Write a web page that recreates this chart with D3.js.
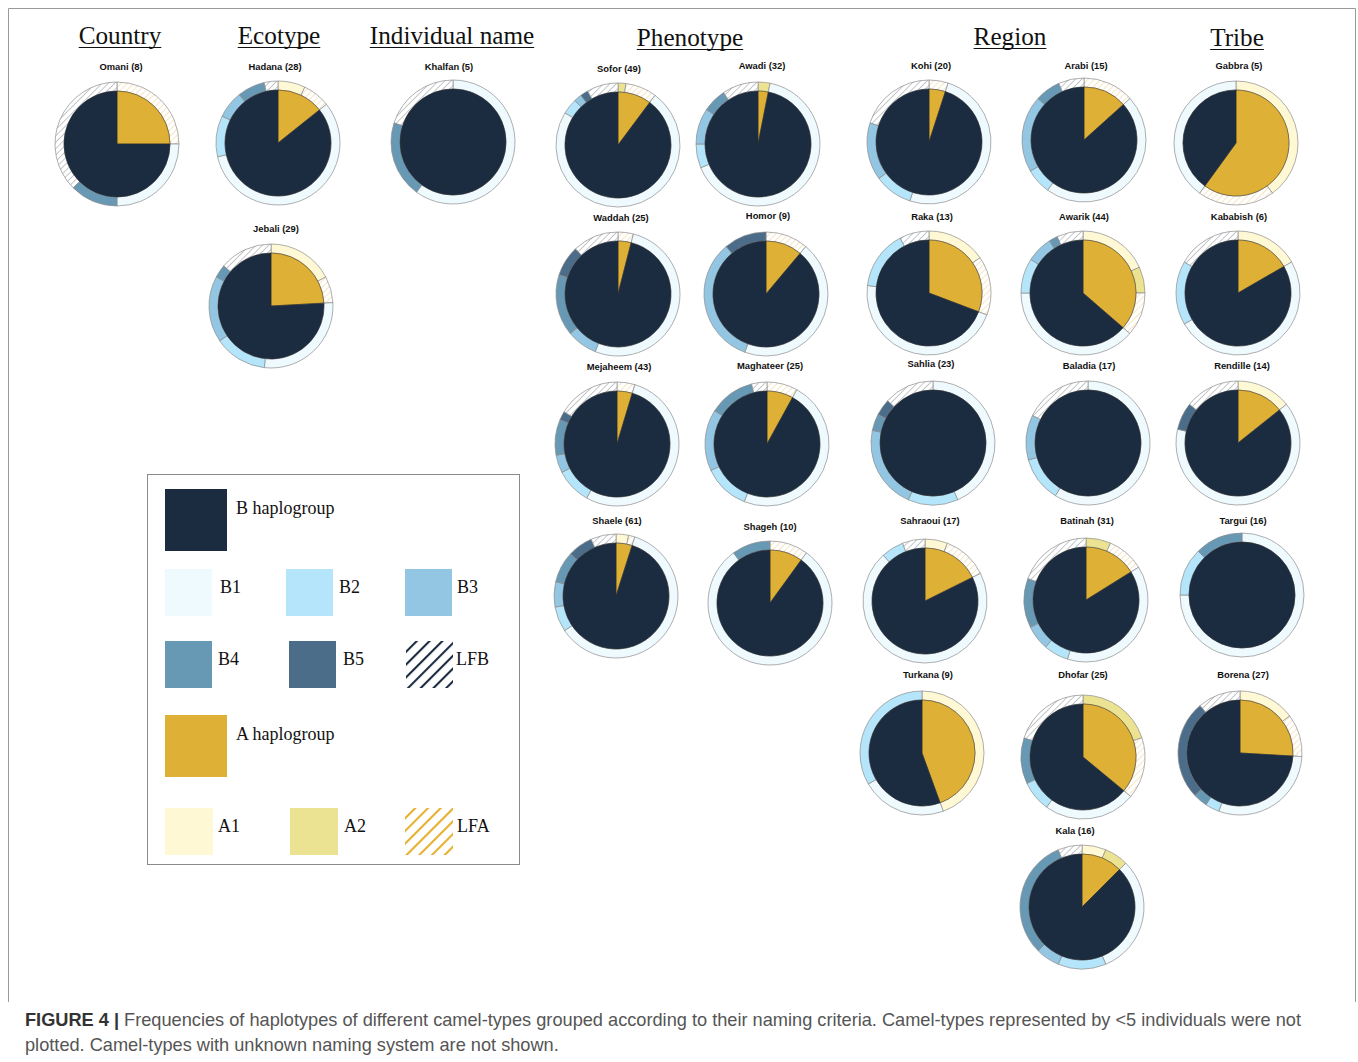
<!DOCTYPE html>
<html>
<head>
<meta charset="utf-8">
<script src="https://cdnjs.cloudflare.com/ajax/libs/d3/7.8.5/d3.min.js"></script>
<style>
html,body{margin:0;padding:0;background:#fff;}
svg{display:block;}
</style>
</head>
<body>
<svg id="chart" width="1358" height="1062"></svg>
<script>
// ---------------- DATA ----------------
const headers = ["Country", "Ecotype", "Individual name", "Phenotype", "Region", "Tribe"];
const chartNames = ["Omani (8)", "Hadana (28)", "Jebali (29)", "Khalfan (5)", "Sofor (49)", "Awadi (32)",
  "Waddah (25)", "Homor (9)", "Mejaheem (43)", "Maghateer (25)", "Shaele (61)", "Shageh (10)",
  "Kohi (20)", "Arabi (15)", "Gabbra (5)", "Raka (13)", "Awarik (44)", "Kababish (6)",
  "Sahlia (23)", "Baladia (17)", "Rendille (14)", "Sahraoui (17)", "Batinah (31)", "Targui (16)",
  "Turkana (9)", "Dhofar (25)", "Borena (27)", "Kala (16)"];
// sub-haplogroup counts per camel-type (outer ring)
const A1  = [0,2,5,0,0,0, 0,0,0,0,2,0, 0,0,2,2,8,1, 0,0,2,1,0,0, 4,0,4,1];
const A2  = [0,0,0,0,1,1, 0,0,0,0,0,0, 0,0,0,0,3,0, 0,0,0,0,2,0, 0,5,0,1];
const LFA = [2,2,2,0,4,0, 1,1,2,2,1,1, 1,2,1,2,5,0, 0,0,0,2,3,0, 0,4,3,0];
const B1  = [2,16,8,3,36,21, 13,4,23,12,37,8, 10,7,2,6,17,3, 10,10,9,12,12,12, 2,6,8,5];
const B2  = [0,3,4,0,2,2, 0,0,4,3,4,0, 2,1,0,2,4,1, 3,2,0,1,2,2, 3,2,1,2];
const B3  = [0,2,5,0,1,3, 2,3,2,4,4,0, 3,3,0,0,3,0, 5,2,0,0,2,0, 0,0,0,1];
const B4  = [1,2,1,1,0,2, 4,0,4,3,5,1, 0,1,0,0,1,0, 1,0,0,0,4,2, 0,3,1,5];
const B5  = [0,0,0,0,1,0, 2,1,1,0,4,0, 0,0,0,0,0,0, 1,0,1,0,0,0, 0,0,7,0];
const LFB = [3,1,4,1,4,3, 3,0,7,1,4,0, 4,1,0,1,3,1, 3,3,2,1,6,0, 0,5,3,1];
const ringKeys = ["A1","A2","LFA","B1","B2","B3","B4","B5","LFB"];
const legendB = ["B1","B2","B3","B4","B5","LFB"];
const legendA = ["A1","A2","LFA"];
const captionBold = "FIGURE 4 |";
const captionLine1 = " Frequencies of haplotypes of different camel-types grouped according to their naming criteria. Camel-types represented by <5 individuals were not";
const captionLine2 = "plotted. Camel-types with unknown naming system are not shown.";

// ---------------- LAYOUT ----------------
const headerPos = [[120,44],[279,44],[452,44],[690,46],[1010,45],[1237,46]];
const centers = [[117,144],[278,143],[271,306],[453,142],[618,145],[758,144],
  [618,294],[766,294],[617,444],[767,444],[616,596],[770,603],
  [929,142],[1084,140],[1236,143],[929,293],[1083,293],[1238,293],
  [933,443],[1088,443],[1238,443],[925,601],[1086,600],[1242,595],
  [922,753],[1083,757],[1240,753],[1082,907]];
const titlePos = [[121,67],[275,67],[276,229],[449,67],[619,69],[762,66],
  [621,218],[768,216],[619,367],[770,366],[617,521],[770,527],
  [931,66],[1086,66],[1239,66],[932,217],[1084,217],[1239,217],
  [931,364],[1089,366],[1242,366],[930,521],[1087,521],[1243,521],
  [928,675],[1083,675],[1243,675],[1075,831]];

const colors = {
  B: "#1b2c41", A: "#deb035",
  B1: "#effaff", B2: "#b4e5fa", B3: "#93c6e2", B4: "#6798b4", B5: "#4c6d8a",
  A1: "#fff8d4", A2: "#ebe391", LFA: "url(#hatchA)", LFB: "url(#hatchB)"
};

const svg = d3.select("#chart");
const defs = svg.append("defs");
function hatch(id, color, size, width, bg) {
  const p = defs.append("pattern").attr("id", id).attr("patternUnits", "userSpaceOnUse")
    .attr("width", size).attr("height", size).attr("patternTransform", "rotate(45)");
  p.append("rect").attr("width", size).attr("height", size).attr("fill", bg);
  p.append("line").attr("x1", 0).attr("y1", 0).attr("x2", 0).attr("y2", size)
    .attr("stroke", color).attr("stroke-width", width);
}
hatch("hatchB", "#80868e", 4.5, 0.9, "#ffffff");
hatch("hatchA", "#f0c779", 4.5, 0.9, "#ffffff");
hatch("hatchBL", "#1b2c41", 9, 4.2, "#ffffff");
hatch("hatchAL", "#e6b030", 9, 4.2, "#ffffff");

// frame
svg.append("path").attr("d", "M8.5,1002 L8.5,8.5 L1355.5,8.5 L1355.5,1002")
  .attr("fill", "none").attr("stroke", "#9a9a9a").attr("stroke-width", 1);

// headers
headers.forEach((h, i) => {
  const t = svg.append("text").attr("x", headerPos[i][0]).attr("y", headerPos[i][1])
    .attr("text-anchor", "middle").attr("font-family", "Liberation Serif, Times New Roman, serif")
    .attr("font-size", 25.2).attr("fill", "#111").text(h);
  const w = t.node().getComputedTextLength();
  svg.append("line").attr("x1", headerPos[i][0] - w / 2).attr("x2", headerPos[i][0] + w / 2)
    .attr("y1", headerPos[i][1] + 3.5).attr("y2", headerPos[i][1] + 3.5)
    .attr("stroke", "#111").attr("stroke-width", 1.2);
});

const rInner = 53, rOuter = 62;
const pie = d3.pie().sort(null).value(d => d.v).startAngle(0).endAngle(2 * Math.PI);
const arcInner = d3.arc().innerRadius(0).outerRadius(rInner);
const arcRing = d3.arc().innerRadius(rInner).outerRadius(rOuter);
const series = {A1, A2, LFA, B1, B2, B3, B4, B5, LFB};

chartNames.forEach((name, i) => {
  const ring = ringKeys.map(k => ({k, v: series[k][i]}));
  const aTot = A1[i] + A2[i] + LFA[i];
  const bTot = B1[i] + B2[i] + B3[i] + B4[i] + B5[i] + LFB[i];
  const g = svg.append("g").attr("transform", `translate(${centers[i][0]},${centers[i][1]})`);
  g.selectAll("path.ring").data(pie(ring).filter(d => d.data.v > 0)).join("path")
    .attr("class", "ring").attr("d", arcRing)
    .attr("fill", d => colors[d.data.k]).attr("stroke", "#8d8d8d").attr("stroke-width", 0.7);
  const inner = [{k: "A", v: aTot}, {k: "B", v: bTot}];
  g.selectAll("path.inner").data(pie(inner).filter(d => d.data.v > 0)).join("path")
    .attr("class", "inner").attr("d", arcInner)
    .attr("fill", d => colors[d.data.k]).attr("stroke", "#2a2a2a").attr("stroke-width", 0.5);
  svg.append("text").attr("x", titlePos[i][0]).attr("y", titlePos[i][1] + 3.3)
    .attr("text-anchor", "middle").attr("font-family", "Liberation Sans, Arial, sans-serif")
    .attr("font-weight", "bold").attr("font-size", 9.4).attr("fill", "#111").text(name);
});

// legend
const lg = svg.append("g");
lg.append("rect").attr("x", 147.5).attr("y", 474.5).attr("width", 372).attr("height", 390)
  .attr("fill", "#fff").attr("stroke", "#8a8a8a").attr("stroke-width", 1);
const serif = "Liberation Serif, Times New Roman, serif";
function swatch(x, y, w, h, fill) {
  lg.append("rect").attr("x", x).attr("y", y).attr("width", w).attr("height", h).attr("fill", fill);
}
function ltext(x, y, t) {
  lg.append("text").attr("x", x).attr("y", y).attr("font-family", serif).attr("font-size", 18)
    .attr("fill", "#111").text(t);
}
swatch(165, 489, 62, 62, colors.B); ltext(236, 514, "B haplogroup");
const legFill = {B1: colors.B1, B2: colors.B2, B3: colors.B3, B4: colors.B4, B5: colors.B5,
  LFB: "url(#hatchBL)", A1: colors.A1, A2: colors.A2, LFA: "url(#hatchAL)"};
const bPos = [[165,569,220,593],[286,569,339,593],[405,569,457,593],[165,641,218,665],[289,641,343,665],[406,641,456,665]];
legendB.forEach((k, i) => { const p = bPos[i]; swatch(p[0], p[1], 47, 47, legFill[k]); ltext(p[2], p[3], k); });
swatch(165, 715, 62, 62, colors.A); ltext(236, 740, "A haplogroup");
const aPos = [[165,808,218,832],[290,808,344,832],[405,808,457,832]];
legendA.forEach((k, i) => { const p = aPos[i]; swatch(p[0], p[1], 48, 47, legFill[k]); ltext(p[2], p[3], k); });

// caption
const capSize = 18.2;
const cap = svg.append("text").attr("x", 25).attr("y", 1026)
  .attr("font-family", "Liberation Sans, Arial, sans-serif").attr("font-size", capSize).attr("fill", "#555");
cap.append("tspan").attr("font-weight", "bold").attr("fill", "#333").text(captionBold);
cap.append("tspan").text(captionLine1);
svg.append("text").attr("x", 25).attr("y", 1051)
  .attr("font-family", "Liberation Sans, Arial, sans-serif").attr("font-size", capSize).attr("fill", "#555")
  .text(captionLine2);
</script>
</body>
</html>
